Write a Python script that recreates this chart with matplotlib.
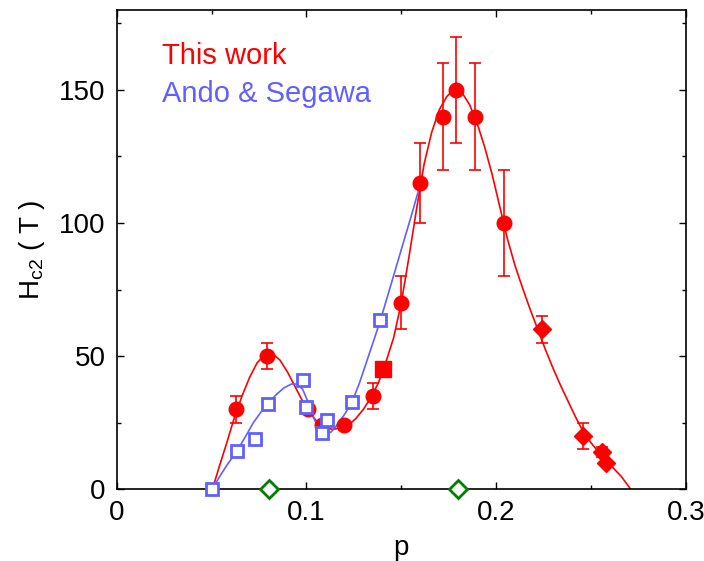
import matplotlib
matplotlib.use("Agg")
import matplotlib.pyplot as plt
from matplotlib.ticker import MultipleLocator, FuncFormatter

plt.rcParams['font.family'] = ['Liberation Sans', 'DejaVu Sans']

RED = '#ff0000'
BLUE = '#6060ff'
GREEN = '#008000'

# This work: circles
p_circ = [0.063, 0.079, 0.101, 0.108, 0.120, 0.135, 0.150, 0.160, 0.172, 0.179, 0.189, 0.204]
h_circ = [30, 50, 30, 24, 24, 35, 70, 115, 140, 150, 140, 100]
e_circ = [5, 5, 0, 0, 0, 5, 10, 15, 20, 20, 20, 20]

# This work: square
p_sq = [0.1405]
h_sq = [45]

# This work: diamonds
p_dia = [0.224, 0.246, 0.256, 0.258]
h_dia = [60, 20, 14, 10]
e_dia = [5, 5, 2, 0]

# Guide line through this work
p_fit_red = [0.0504, 0.054, 0.058, 0.062, 0.066, 0.070, 0.074, 0.078, 0.082, 0.086,
             0.090, 0.094, 0.098, 0.102, 0.106, 0.110, 0.114, 0.118, 0.122, 0.126,
             0.130, 0.134, 0.138, 0.142, 0.146, 0.150, 0.154, 0.158, 0.162, 0.166,
             0.170, 0.174, 0.178, 0.182, 0.186, 0.190, 0.194, 0.198, 0.202, 0.206,
             0.210, 0.214, 0.218, 0.222, 0.226, 0.230, 0.234, 0.238, 0.242, 0.246,
             0.250, 0.254, 0.258, 0.262, 0.266, 0.271]
h_fit_red = [0, 8.5, 17.5, 27, 35, 42, 47.5, 50.5, 51, 48.5,
             44, 38.5, 33, 28.5, 25, 23, 22.5, 23, 24, 26.5,
             30, 34.5, 40, 48, 57, 70, 87, 105, 122, 134,
             142.5, 147.5, 150.5, 149, 144.5, 137.5, 128.5, 118, 106, 94,
             84, 75.5, 67.5, 60, 52.5, 45.5, 39, 33, 27, 21.5,
             17.5, 14, 10.8, 7.8, 4.8, 0]

# Ando & Segawa: open squares
p_ando = [0.0503, 0.0635, 0.0727, 0.0796, 0.098, 0.0995, 0.108, 0.111, 0.124, 0.139]
h_ando = [0, 14.4, 18.8, 32, 41, 31, 21, 26, 32.7, 63.5]

# Guide line through Ando & Segawa
p_fit_blue = [0.0503, 0.054, 0.058, 0.0635, 0.068, 0.072, 0.076, 0.080, 0.084, 0.088,
              0.092, 0.095, 0.098, 0.101, 0.104, 0.107, 0.110, 0.113, 0.116, 0.120,
              0.124, 0.128, 0.132, 0.136, 0.139, 0.144, 0.150, 0.155, 0.161]
h_fit_blue = [0, 4.5, 9, 14.5, 20, 25, 29, 32.5, 35.5, 38,
              39.5, 39.5, 37.5, 32.5, 26.5, 22, 20.5, 21.5, 24, 28,
              32.7, 40, 48.5, 57, 63.5, 75.5, 90, 102, 117]

# Open diamonds on the axis
p_green = [0.08, 0.18]
h_green = [0, 0]

fig = plt.figure(figsize=(7.04, 5.61), dpi=100)
ax = fig.add_axes([0.166, 0.128, 0.808, 0.854])

ax.plot(p_fit_red, h_fit_red, color=RED, lw=1.2, zorder=2)
ax.plot(p_fit_blue, h_fit_blue, color=BLUE, lw=1.2, zorder=2)

ax.errorbar(p_circ, h_circ, yerr=e_circ, fmt='o', color=RED, ms=10.5,
            capsize=4, elinewidth=1.2, capthick=1.2, zorder=4)
ax.plot(p_sq, h_sq, 's', color=RED, ms=11, zorder=4)
ax.errorbar(p_dia, h_dia, yerr=e_dia, fmt='D', color=RED, ms=9,
            capsize=4, elinewidth=1.2, capthick=1.2, zorder=4)

ax.plot(p_ando, h_ando, 's', mfc='white', mec=BLUE, mew=2, ms=9, zorder=5,
        clip_on=False)
ax.plot(p_green, h_green, 'D', mfc='white', mec=GREEN, mew=2, ms=9.5, zorder=5,
        clip_on=False)

ax.set_xlim(0, 0.3)
ax.set_ylim(0, 180)
ax.xaxis.set_major_locator(MultipleLocator(0.1))
ax.xaxis.set_minor_locator(MultipleLocator(0.05))
ax.yaxis.set_major_locator(MultipleLocator(50))
ax.yaxis.set_minor_locator(MultipleLocator(25))
ax.xaxis.set_major_formatter(FuncFormatter(lambda v, pos: '0' if abs(v) < 1e-9 else f'{v:.1f}'))

ax.tick_params(which='both', direction='in', top=True, right=True,
               labelsize=20, width=1)
ax.tick_params(which='major', length=5, pad=8)
ax.tick_params(which='minor', length=3)
for s in ax.spines.values():
    s.set_linewidth(1.2)

ax.set_xlabel('p', fontsize=20, labelpad=6)
ax.set_ylabel('H$_{\\mathregular{c2}}$ ( T )', fontsize=20, labelpad=9)

ax.text(0.08, 0.905, 'This work', color=RED, fontsize=21, transform=ax.transAxes,
        va='center')
ax.text(0.08, 0.825, 'Ando & Segawa', color=BLUE, fontsize=21, transform=ax.transAxes,
        va='center')

fig.savefig('out.png', dpi=100)
